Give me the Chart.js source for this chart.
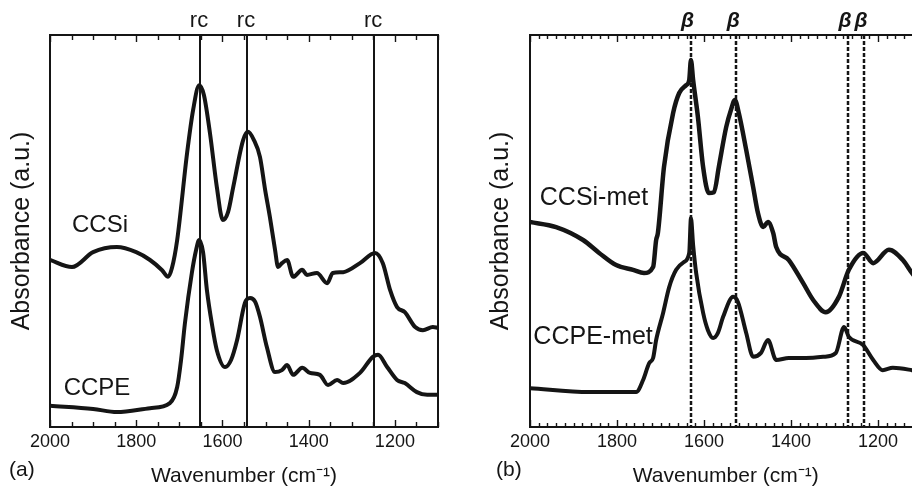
<!DOCTYPE html>
<html lang="en">
<head>
<meta charset="UTF-8">
<title>Amide band spectra</title>
<script src="https://cdn.jsdelivr.net/npm/chart.js@4.4.2/dist/chart.umd.min.js"></script>
<style>
    html, body { margin: 0; padding: 0; background: #fff; }
    body { width: 912px; height: 487px; overflow: hidden; position: relative; }
    .panel { position: absolute; top: 0; }
</style>
</head>
<body>
<div class="panel" style="left:0"><canvas id="chartA" width="456" height="487"></canvas></div>
<div class="panel" style="left:456px"><canvas id="chartB" width="480" height="487"></canvas></div>

<script>
// --- data (wavenumber in cm-1, absorbance in arbitrary units) ---
const ccsiX = [2000,1949,1900,1845,1800,1768,1740,1726,1717,1705,1682,1668,1654,1643,1629,1613,1599,1587,1575,1552,
               1541,1527,1513,1501,1490,1478,1471,1462,1450,1436,1415,1404,1381,1357,1344,1320,1281,1246,1228,1211,
               1195,1177,1153,1135,1112,1100];
const ccsiY = [0.426,0.408,0.446,0.459,0.446,0.426,0.400,0.383,0.406,0.477,0.699,0.809,0.872,0.847,0.750,0.612,0.528,0.548,0.612,0.732,
               0.753,0.732,0.689,0.605,0.536,0.452,0.408,0.418,0.426,0.383,0.401,0.388,0.393,0.367,0.393,0.395,0.418,0.444,0.418,0.349,
               0.306,0.293,0.255,0.247,0.255,0.253];

const ccpeX = [2000,1900,1845,1768,1722,1705,1696,1687,1671,1661,1654,1645,1636,1624,1613,1594,1580,1566,1548,1536,
               1524,1513,1497,1478,1462,1450,1436,1415,1397,1374,1355,1334,1320,1281,1251,1239,1218,1195,1177,1149,
               1125,1100];
const ccpeY = [0.054,0.046,0.038,0.048,0.061,0.102,0.171,0.265,0.393,0.452,0.477,0.446,0.349,0.260,0.196,0.153,0.171,0.222,0.316,0.329,
               0.319,0.281,0.204,0.140,0.145,0.158,0.133,0.151,0.138,0.133,0.107,0.120,0.112,0.138,0.179,0.184,0.153,0.120,0.112,0.089,
               0.082,0.082];

const ccsiMetX = [2000,1940,1878,1841,1802,1763,1738,1717,1710,1706,1692,1671,1657,1641,1634,1630,1625,1614,1602,1589,
                  1577,1566,1549,1538,1529,1520,1503,1487,1476,1464,1453,1441,1434,1405,1372,1349,1320,1290,1267,1234,
                  1211,1175,1143,1122,1100];
const ccsiMetY = [0.523,0.510,0.477,0.444,0.413,0.401,0.393,0.408,0.477,0.495,0.663,0.801,0.852,0.872,0.885,0.936,0.885,0.791,0.663,0.597,
                  0.599,0.663,0.765,0.809,0.834,0.801,0.707,0.612,0.546,0.510,0.523,0.495,0.459,0.426,0.367,0.324,0.293,0.332,0.401,0.444,
                  0.418,0.452,0.426,0.393,0.362];

const ccpeMetX = [2000,1864,1756,1740,1726,1717,1710,1694,1680,1664,1646,1634,1630,1625,1618,1602,1591,1579,1568,1556,
                  1533,1522,1503,1487,1469,1453,1434,1405,1366,1326,1297,1278,1267,1234,1211,1189,1166,1122,1100];
const ccpeMetY = [0.099,0.089,0.089,0.120,0.163,0.176,0.222,0.291,0.357,0.401,0.421,0.444,0.533,0.464,0.393,0.291,0.247,0.227,0.240,0.281,
                  0.332,0.319,0.240,0.179,0.189,0.222,0.171,0.176,0.176,0.179,0.189,0.255,0.230,0.209,0.171,0.145,0.151,0.145,0.140];

// band positions marked on each panel
const rcLines = [1652, 1543, 1248];
const betaLines = [1631, 1526, 1269, 1232];

const xTickLabels = [2000, 1800, 1600, 1400, 1200];

const INK = '#151515';
Chart.defaults.font.family = "'Liberation Sans', Arial, Helvetica, sans-serif";
Chart.defaults.color = INK;

const pts = (xs, ys) => xs.map((x, i) => ({ x: x, y: ys[i] }));

// vertical band markers with their labels above the frame
const peakMarks = {
    id: 'peakMarks',
    afterDatasetsDraw(chart, args, o) {
        const { ctx, chartArea: a, scales: { x } } = chart;
        ctx.save();
        ctx.strokeStyle = INK;
        ctx.lineWidth = o.width;
        ctx.setLineDash(o.dash);
        o.values.forEach(v => {
            const px = Math.round(x.getPixelForValue(v));
            ctx.beginPath();
            ctx.moveTo(px, a.top);
            ctx.lineTo(px, a.bottom);
            ctx.stroke();
        });
        ctx.setLineDash([]);
        ctx.fillStyle = INK;
        ctx.font = o.font;
        ctx.textAlign = 'center';
        ctx.textBaseline = 'middle';
        o.values.forEach(v => ctx.fillText(o.text, x.getPixelForValue(v) + o.dx, a.top - 14));
        ctx.restore();
    }
};

// box around the plot, inward ticks top and bottom, curve names and panel letter
const frame = {
    id: 'frame',
    afterDraw(chart, args, o) {
        const { ctx, chartArea: a, scales: { x, y } } = chart;
        ctx.save();
        ctx.strokeStyle = INK;
        ctx.lineWidth = 2;
        ctx.strokeRect(a.left, a.top, a.right - a.left, a.bottom - a.top);
        ctx.lineWidth = 1.4;
        x.ticks.forEach(t => {
            const px = Math.round(x.getPixelForValue(t.value)) + 0.5;
            const len = t.value % 200 === 0 ? o.major : o.minor;
            ctx.beginPath();
            ctx.moveTo(px, a.bottom); ctx.lineTo(px, a.bottom - len);
            ctx.moveTo(px, a.top); ctx.lineTo(px, a.top + len);
            ctx.stroke();
        });
        ctx.fillStyle = INK;
        ctx.font = o.nameFont;
        ctx.textAlign = 'center';
        ctx.textBaseline = 'middle';
        o.names.forEach(n => ctx.fillText(n.text, x.getPixelForValue(n.x), y.getPixelForValue(n.y)));
        ctx.font = '21px "Liberation Sans", Arial, sans-serif';
        ctx.textAlign = 'left';
        ctx.fillText(o.panel.text, o.panel.left, o.panel.top);
        ctx.restore();
    }
};

function lineSet(xs, ys, width) {
    return {
        data: pts(xs, ys),
        borderColor: INK,
        borderWidth: width,
        pointRadius: 0,
        cubicInterpolationMode: 'monotone',
        fill: false
    };
}

function makeOptions(c) {
    return {
        responsive: false,
        animation: false,
        layout: { padding: { top: 35, right: c.padRight, left: 0, bottom: 0 } },
        scales: {
            x: {
                type: 'linear',
                reverse: true,
                min: 1100,
                max: 2000,
                grid: { display: false, drawTicks: false },
                border: { display: false },
                ticks: {
                    stepSize: c.minorStep,
                    autoSkip: false,
                    maxRotation: 0,
                    padding: 4,
                    font: { size: 18 },
                    callback: v => xTickLabels.includes(v) ? String(v) : ''
                },
                title: {
                    display: true,
                    text: 'Wavenumber (cm\u207B\u00B9)',
                    font: { size: 21, lineHeight: 1 },
                    padding: { top: 0, bottom: 0 }
                },
                afterFit: s => { s.height = 60; }
            },
            y: {
                min: 0,
                max: 1,
                grid: { display: false, drawTicks: false },
                border: { display: false },
                ticks: { display: false },
                title: {
                    display: true,
                    text: 'Absorbance (a.u.)',
                    font: { size: 25, lineHeight: 1 },
                    padding: { top: c.yTitlePad, bottom: 0 }
                },
                afterFit: s => { s.width = c.yWidth; }
            }
        },
        plugins: {
            legend: { display: false },
            tooltip: { enabled: false },
            peakMarks: c.marks,
            frame: c.frame
        }
    };
}

new Chart(document.getElementById('chartA'), {
    type: 'line',
    data: { datasets: [lineSet(ccsiX, ccsiY, 4), lineSet(ccpeX, ccpeY, 4)] },
    options: makeOptions({
        padRight: 18, yWidth: 50, yTitlePad: 9.5, minorStep: 50,
        marks: { values: rcLines, text: 'rc', dash: [], width: 2, dx: -1,
                 font: '22px "Liberation Sans", Arial, sans-serif' },
        frame: { major: 7, minor: 5, nameFont: '24px "Liberation Sans", Arial, sans-serif',
                 names: [{ text: 'CCSi', x: 1884, y: 0.515 }, { text: 'CCPE', x: 1891, y: 0.099 }],
                 panel: { text: '(a)', left: 9, top: 470 } }
    }),
    plugins: [peakMarks, frame]
});

new Chart(document.getElementById('chartB'), {
    type: 'line',
    data: { datasets: [lineSet(ccsiMetX, ccsiMetY, 4.5), lineSet(ccpeMetX, ccpeMetY, 4)] },
    options: makeOptions({
        padRight: 14.5, yWidth: 74, yTitlePad: 32.5, minorStep: 20,
        marks: { values: betaLines, text: '\u03B2', dash: [4, 2], width: 2.5, dx: -3,
                 font: 'italic bold 21px "Liberation Sans", Arial, sans-serif' },
        frame: { major: 7, minor: 4, nameFont: '25px "Liberation Sans", Arial, sans-serif',
                 names: [{ text: 'CCSi-met', x: 1853, y: 0.584 }, { text: 'CCPE-met', x: 1855, y: 0.230 }],
                 panel: { text: '(b)', left: 40, top: 470 } }
    }),
    plugins: [peakMarks, frame]
});
</script>
</body>
</html>
